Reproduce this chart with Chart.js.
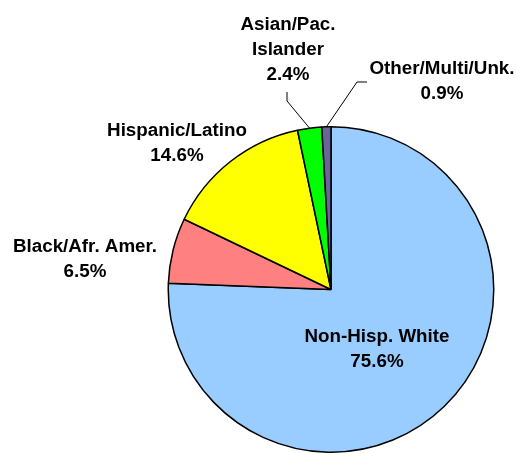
<!DOCTYPE html>
<html>
<head>
<meta charset="utf-8">
<script src="https://cdn.jsdelivr.net/npm/chart.js@4"></script>
<style>
body{margin:0;background:#fff;}
#wrap{width:517px;height:453px;}
</style>
</head>
<body>
<div id="wrap"><canvas id="myChart" width="517" height="453"></canvas></div>
<script>
// clockwise from 12 o'clock
const categories = ['Non-Hisp. White', 'Black/Afr. Amer.', 'Hispanic/Latino', 'Asian/Pac. Islander', 'Other/Multi/Unk.'];
const labelLines = [['Non-Hisp. White'], ['Black/Afr. Amer.'], ['Hispanic/Latino'], ['Asian/Pac.', 'Islander'], ['Other/Multi/Unk.']];
const percents = [75.6, 6.5, 14.6, 2.4, 0.9];
const colors = ['#99CCFF', '#FF8080', '#FFFF00', '#00FF00', '#666699'];

// where each label sits (centre x, first baseline y) and optional leader elbow
const labelSpots = [
    {x: 377, y: 342},
    {x: 85, y: 252},
    {x: 177, y: 136},
    {x: 288, y: 30, elbow: [[287, 92], [287, 101]]},
    {x: 442, y: 74, elbow: [[367, 82], [357, 82]]}
];

const sliceLabels = {
    id: 'sliceLabels',
    afterDraw(chart){
        const ctx = chart.ctx;
        const arcs = chart.getDatasetMeta(0).data;
        ctx.save();
        ctx.font = 'bold 18.8px "Liberation Sans", Arial, sans-serif';
        ctx.fillStyle = '#000';
        ctx.textAlign = 'center';
        ctx.textBaseline = 'alphabetic';
        for(let i=0; i<arcs.length; i++){
            const spot = labelSpots[i];
            const lines = labelLines[i].concat([percents[i].toFixed(1) + '%']);
            for(let j=0; j<lines.length; j++){
                ctx.fillText(lines[j], spot.x, spot.y + j*25);
            }
            if(spot.elbow){
                const a = arcs[i];
                const mid = (a.startAngle + a.endAngle)/2;
                const ex = a.x + Math.cos(mid)*a.outerRadius;
                const ey = a.y + Math.sin(mid)*a.outerRadius;
                ctx.beginPath();
                ctx.strokeStyle = '#000';
                ctx.lineWidth = 1;
                ctx.moveTo(spot.elbow[0][0], spot.elbow[0][1]);
                ctx.lineTo(spot.elbow[1][0], spot.elbow[1][1]);
                ctx.lineTo(ex, ey);
                ctx.stroke();
            }
        }
        ctx.restore();
    }
};

const myChart = new Chart(document.getElementById('myChart'), {
    type: 'pie',
    data: {
        labels: categories,
        datasets: [{
            data: percents,
            backgroundColor: colors,
            borderColor: '#000',
            borderWidth: 1.5
        }]
    },
    options: {
        responsive: false,
        animation: false,
        layout: {padding: {left: 166, right: 21, top: 126, bottom: 0}},
        plugins: {
            legend: {display: false},
            tooltip: {enabled: false}
        }
    },
    plugins: [sliceLabels]
});
</script>
</body>
</html>
